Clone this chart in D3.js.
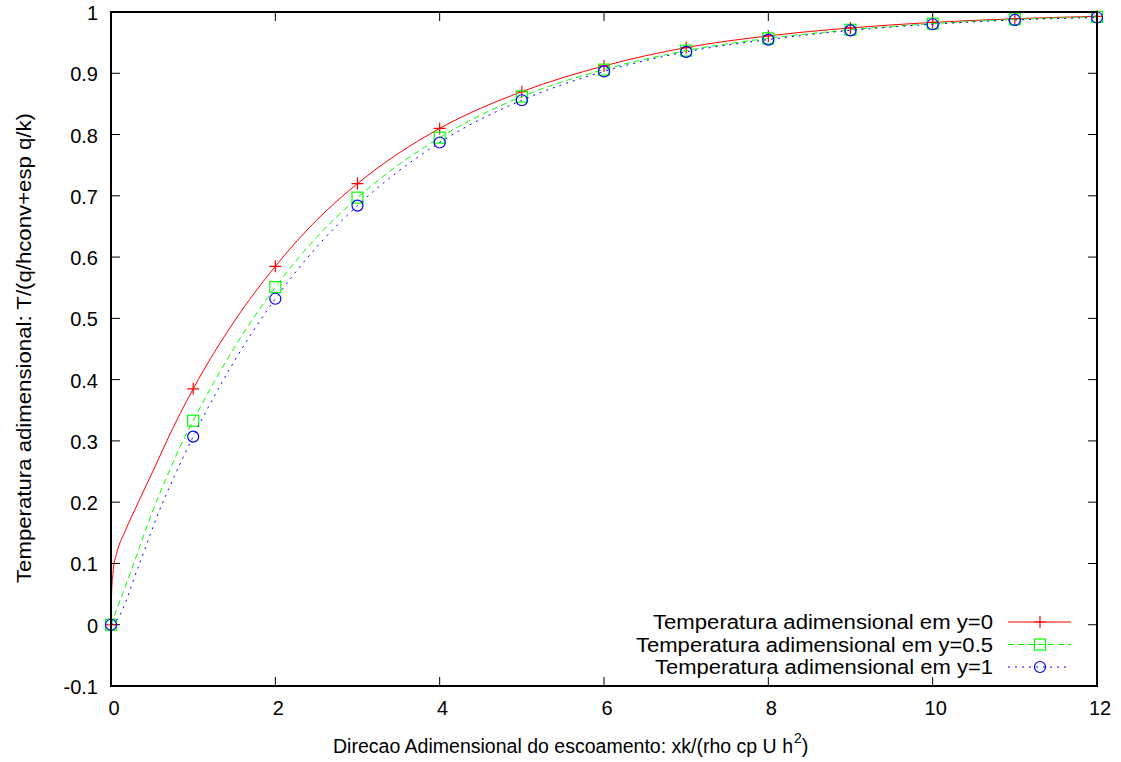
<!DOCTYPE html>
<html>
<head>
<meta charset="utf-8">
<script src="https://cdn.jsdelivr.net/npm/d3@7"></script>
<style>
  body { margin: 0; background: #fff; }
  text { font-family: "Liberation Sans", Arial, sans-serif; fill: #000; }
</style>
</head>
<body>
<svg id="chart"></svg>
<script>
// markers at integer x
var markX = [0, 1, 2, 3, 4, 5, 6, 7, 8, 9, 10, 11, 12];
var y0Marks = [0, 0.385, 0.585, 0.72, 0.81, 0.87, 0.912, 0.942, 0.961, 0.974, 0.983, 0.989, 0.993];
var y05Marks = [0, 0.333, 0.551, 0.697, 0.795, 0.862, 0.906, 0.937, 0.957, 0.971, 0.981, 0.988, 0.992];
var y1Marks = [0, 0.307, 0.532, 0.684, 0.787, 0.856, 0.903, 0.935, 0.955, 0.970, 0.980, 0.987, 0.991];

// denser points
var y0LineX = [0, 0.003, 0.028, 0.07, 0.17, 0.333, 0.515, 0.75, 1, 1.5, 2, 2.5, 3, 4, 5, 6, 7, 8, 9, 10, 11, 12];
var y0LineY = [0, 0.035, 0.09, 0.117, 0.152, 0.2, 0.252, 0.32, 0.385, 0.495, 0.585, 0.66, 0.72, 0.81, 0.87, 0.912, 0.942, 0.961, 0.974, 0.983, 0.989, 0.993];
var y05LineX = [0, 0.25, 0.5, 0.7, 0.9, 1, 1.5, 2, 2.5, 3, 4, 5, 6, 7, 8, 9, 10, 11, 12];
var y05LineY = [0, 0.09, 0.183, 0.248, 0.307, 0.333, 0.452, 0.551, 0.632, 0.697, 0.795, 0.862, 0.906, 0.937, 0.957, 0.971, 0.981, 0.988, 0.992];
var y1LineX = [0, 0.07, 0.333, 0.576, 0.78, 1, 1.5, 2, 2.5, 3, 4, 5, 6, 7, 8, 9, 10, 11, 12];
var y1LineY = [0, 0.008, 0.095, 0.182, 0.245, 0.307, 0.43, 0.532, 0.616, 0.684, 0.787, 0.856, 0.903, 0.935, 0.955, 0.970, 0.980, 0.987, 0.991];

var xTicks = [0, 2, 4, 6, 8, 10, 12];
var yTicks = [-0.1, 0, 0.1, 0.2, 0.3, 0.4, 0.5, 0.6, 0.7, 0.8, 0.9, 1];
var seriesNames = ["Temperatura adimensional em y=0", "Temperatura adimensional em y=0.5", "Temperatura adimensional em y=1"];

var W = 1121, H = 762;
var pLeft = 111, pRight = 1097, pTop = 12, pBottom = 686;
var fs = "20px";

var svg = d3.select("#chart").attr("width", W).attr("height", H);

var x = d3.scaleLinear().domain([0, 12]).range([pLeft, pRight]);
var y = d3.scaleLinear().domain([-0.1, 1]).range([pBottom, pTop]);

// ticks (inside, mirrored)
var tl = 9;
var g = svg.append("g");
xTicks.forEach(function(t) {
  g.append("line").attr("x1", x(t)).attr("x2", x(t)).attr("y1", pBottom).attr("y2", pBottom - tl).attr("stroke", "#000");
  g.append("line").attr("x1", x(t)).attr("x2", x(t)).attr("y1", pTop).attr("y2", pTop + tl).attr("stroke", "#000");
  g.append("text").attr("x", x(t) + 3).attr("y", 715).attr("text-anchor", "middle")
    .style("font-size", fs).text(t);
});
yTicks.forEach(function(t) {
  g.append("line").attr("x1", pLeft).attr("x2", pLeft + tl).attr("y1", y(t)).attr("y2", y(t)).attr("stroke", "#000");
  g.append("line").attr("x1", pRight).attr("x2", pRight - tl).attr("y1", y(t)).attr("y2", y(t)).attr("stroke", "#000");
  g.append("text").attr("x", 98).attr("y", y(t) + 8).attr("text-anchor", "end")
    .style("font-size", fs).text(+t.toFixed(1));
});

var series = [
  { name: seriesNames[0], lx: y0LineX, ly: y0LineY, my: y0Marks, color: "#ff0000", dash: null, mark: "plus", tw: 340 },
  { name: seriesNames[1], lx: y05LineX, ly: y05LineY, my: y05Marks, color: "#00ff00", dash: "6,4", mark: "square", tw: 357 },
  { name: seriesNames[2], lx: y1LineX, ly: y1LineY, my: y1Marks, color: "#0000ff", dash: "2,5", mark: "circle", tw: 338 }
];

var line = d3.line()
  .x(function(d) { return x(d[0]); })
  .y(function(d) { return y(d[1]); })
  .curve(d3.curveMonotoneX);

function drawMark(sel, type, cx, cy, color) {
  if (type == "plus") {
    sel.append("path").attr("d", "M" + (cx - 6) + "," + cy + "H" + (cx + 6) + "M" + cx + "," + (cy - 6) + "V" + (cy + 6))
      .attr("stroke", color).attr("stroke-width", 1.2).attr("fill", "none");
  } else if (type == "square") {
    sel.append("rect").attr("x", cx - 5.5).attr("y", cy - 5.5).attr("width", 11).attr("height", 11)
      .attr("stroke", color).attr("stroke-width", 1.2).attr("fill", "none");
  } else {
    sel.append("circle").attr("cx", cx).attr("cy", cy).attr("r", 5.5)
      .attr("stroke", color).attr("stroke-width", 1.2).attr("fill", "none");
  }
}

series.forEach(function(s, i) {
  var pts = s.lx.map(function(v, j) { return [v, s.ly[j]]; });
  var p = svg.append("path").attr("d", line(pts)).attr("fill", "none")
    .attr("stroke", s.color).attr("stroke-width", 1);
  if (s.dash) p.attr("stroke-dasharray", s.dash);
  markX.forEach(function(v, j) {
    drawMark(svg, s.mark, x(v), y(s.my[j]), s.color);
  });

  // legend
  var ly = 622 + i * 22.5;
  svg.append("text").attr("x", 993).attr("y", ly + 7).attr("text-anchor", "end")
    .attr("textLength", s.tw).attr("lengthAdjust", "spacingAndGlyphs")
    .style("font-size", fs).text(s.name);
  var lp = svg.append("line").attr("x1", 1008).attr("x2", 1071).attr("y1", ly).attr("y2", ly)
    .attr("stroke", s.color).attr("stroke-width", 1);
  if (s.dash) lp.attr("stroke-dasharray", s.dash);
  drawMark(svg, s.mark, 1040, ly, s.color);
});

// frame
svg.append("rect").attr("x", pLeft).attr("y", pTop).attr("width", pRight - pLeft).attr("height", pBottom - pTop)
  .attr("fill", "none").attr("stroke", "#000").attr("stroke-width", 2);

// axis labels
var xl = svg.append("text").attr("x", 333).attr("y", 753).style("font-size", fs);
xl.append("tspan").attr("textLength", 460).attr("lengthAdjust", "spacingAndGlyphs")
  .text("Direcao Adimensional do escoamento: xk/(rho cp U h");
xl.append("tspan").attr("dx", 1).attr("dy", -10).style("font-size", "14px").text("2");
xl.append("tspan").attr("dy", 10).text(")");

svg.append("text").attr("transform", "translate(31," + 348 + ") rotate(-90)")
  .attr("text-anchor", "middle").style("font-size", fs)
  .attr("textLength", 470).attr("lengthAdjust", "spacingAndGlyphs")
  .text("Temperatura adimensional: T/(q/hconv+esp q/k)");
</script>
</body>
</html>
